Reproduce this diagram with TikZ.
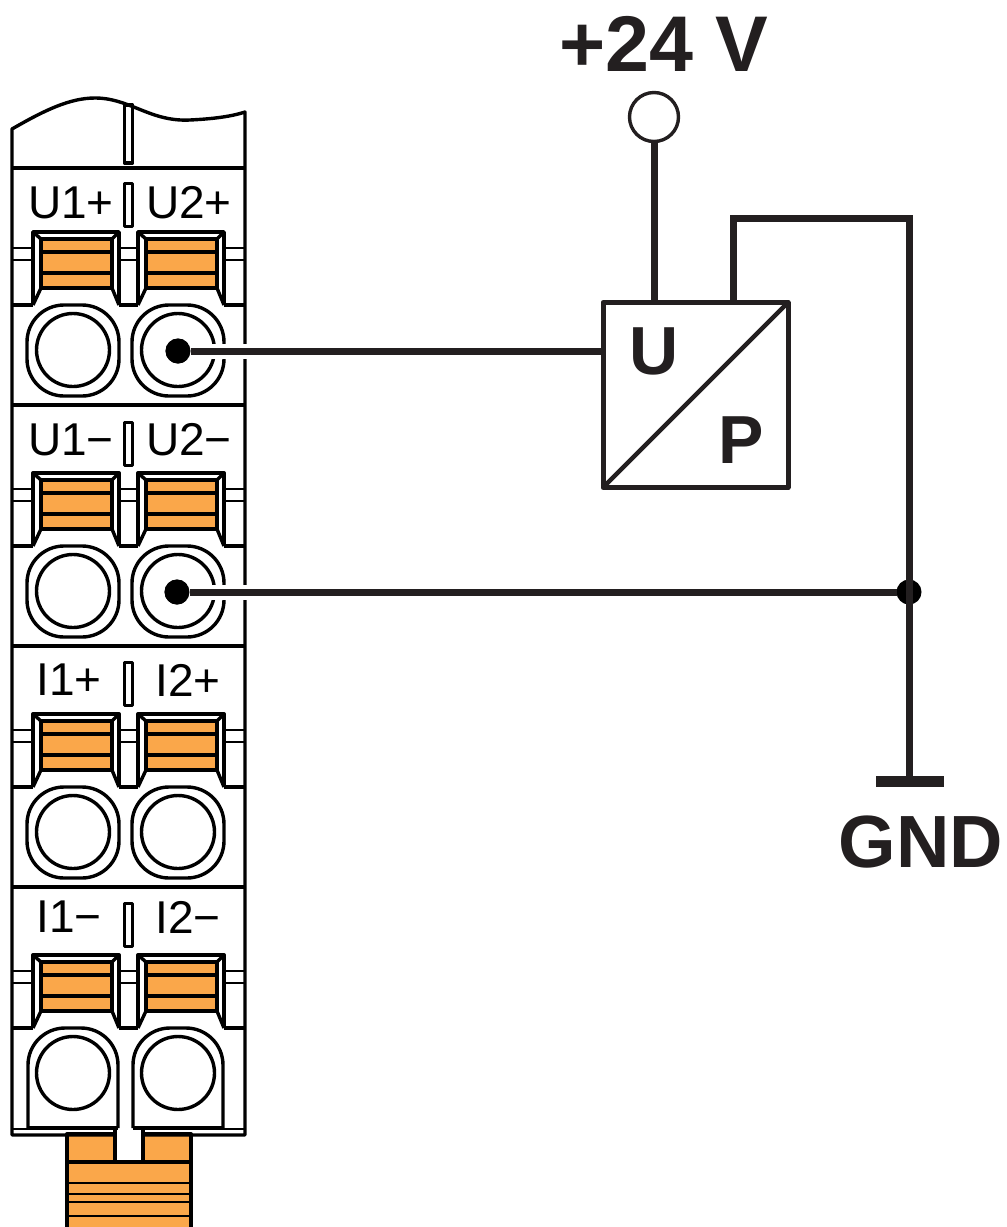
\documentclass[tikz,border=0pt]{standalone}
\usepackage{fontspec}
\setmainfont{Liberation Sans}
\definecolor{clamporange}{HTML}{FAA74A}
\definecolor{wireblack}{HTML}{231F20}

\begin{document}
\begin{tikzpicture}[
		x=1pt,y=-1pt,
		housing/.style = {draw=black,line width=3.4pt,line join=round},
		thinline/.style = {draw=black,line width=1.6pt},
		clamp/.style = {housing,fill=clamporange},
		wire/.style = {draw=wireblack,line width=7pt},
		halo/.style = {draw=white,line width=15pt},
		dot/.style = {circle,fill=black,inner sep=0pt,outer sep=0pt,minimum size=25pt},
		pinlabel/.style = {font=\fontsize{46}{46}\selectfont,inner sep=0pt},
		biglabel/.style = {font=\fontsize{79}{79}\selectfont\bfseries,inner sep=0pt,text=wireblack}
			]
		\useasboundingbox (0,0) rectangle (1007,1227);

		% bottom plug
		\filldraw [clamp] (67,1134) rectangle (191,1230);
		\draw [housing] (67,1162) -- (191,1162);
		\draw [thinline,line width=2.4pt] (67,1183) -- (191,1183);
		\draw [thinline,line width=2.4pt] (67,1194) -- (191,1194);
		\draw [thinline,line width=2.4pt] (67,1202) -- (191,1202);
		\draw [thinline,line width=2.4pt] (67,1216) -- (191,1216);

		% housing
		\draw [housing] (12,1135) -- (12,129) .. controls (45,110) and (70,98) .. (95,98)
			.. controls (130,98) and (150,122) .. (190,120) .. controls (210,119) and (230,117) .. (245,112)
			-- (245,1135) -- cycle;
		\draw [housing] (12,168) -- (245,168);
		\draw [thinline] (12,1129) -- (28,1129) (223,1129) -- (245,1129);
		\fill [white] (115,1130) rectangle (143,1162);
		\draw [housing] (115,1128) -- (115,1162) -- (143,1162) -- (143,1128);
		\draw [housing] (124.5,105) rectangle (132.5,163);

		\foreach \dy/\slot in {0/183,241/422,482/662,723/903}
		{
			\draw [housing,line width=3pt] (124.5,\slot) rectangle (132.5,\slot+43);
			\begin{scope}[shift={(0,\dy)}]
				\foreach \cx in {0,105}
				{
					\draw [thinline] (\cx+119,248) -- (\cx+138,248) (\cx+119,260) -- (\cx+138,260);
					\draw [housing] (\cx+33,305) -- (\cx+33,232) -- (\cx+119,232) -- (\cx+119,305);
					\draw [housing] (\cx+33,232) -- (\cx+41,239) (\cx+119,232) -- (\cx+112,239);
					\draw [housing] (\cx+33,305) -- (\cx+41,288) (\cx+119,305) -- (\cx+112,288);
					\filldraw [clamp] (\cx+41,239) rectangle (\cx+112,288);
					\draw [housing] (\cx+41,252) -- (\cx+112,252) (\cx+41,273) -- (\cx+112,273);
					\draw [housing] (\cx+73,350) circle (36.5);
				}
				\draw [thinline] (12,248) -- (33,248) (12,260) -- (33,260);
				\draw [thinline] (224,248) -- (245,248) (224,260) -- (245,260);
				\draw [housing] (12,305) -- (33,305) (119,305) -- (138,305) (224,305) -- (245,305);
			\end{scope}
		}

		% recesses
		\foreach \dy in {0,241,482}
		{
			\draw [housing,rounded corners=37pt] (27,\dy+305) rectangle (119,\dy+396);
			\draw [housing,rounded corners=37pt] (132,\dy+305) rectangle (224,\dy+396);
			\draw [housing] (12,\dy+405) -- (245,\dy+405);
		}
		\draw [housing,rounded corners=37pt] (28,1128) -- (28,1028) -- (118,1028) -- (118,1128);
		\draw [housing,rounded corners=37pt] (133,1128) -- (133,1028) -- (223,1028) -- (223,1128);
		\draw [housing] (28,1128) -- (118,1128) (133,1128) -- (223,1128);

		% terminal names
		\node [pinlabel] (U1p) at (71,203) {U1+};
		\node [pinlabel] (U2p) at (189,203) {U2+};
		\node [pinlabel] (U1m) at (71,440) {U1−};
		\node [pinlabel] (U2m) at (189,440) {U2−};
		\node [pinlabel] (I1p) at (69,680) {I1+};
		\node [pinlabel] (I2p) at (188,680) {I2+};
		\node [pinlabel] (I1m) at (69,917) {I1−};
		\node [pinlabel] (I2m) at (188,917) {I2−};

		% wiring
		\node [draw=wireblack,line width=5pt,line join=round,fill=white,minimum size=185pt,inner sep=0pt] (Box) at (695.5,395) {};
		\node [draw=wireblack,line width=3.4pt,circle,fill=white,minimum size=49pt,inner sep=0pt] (Supply) at (654,117) {};
		\node [biglabel] (SupplyLabel) at (664,44) {+24 V};
		\node [biglabel,font=\fontsize{68}{68}\selectfont\bfseries] (ULabel) at (654,351) {U};
		\node [biglabel,font=\fontsize{68}{68}\selectfont\bfseries] (PLabel) at (741,440) {P};
		\node [biglabel,font=\fontsize{74}{74}\selectfont\bfseries] (GndLabel) at (921,842) {GND};

		\node [dot] (PinU) at (178,351) {};
		\node [dot] (PinG) at (177,592) {};
		\node [dot] (Junction) at (909,592) {};
		\node [fill=wireblack,minimum width=68pt,minimum height=11pt,inner sep=0pt,outer sep=0pt] (Gnd) at (909.5,781) {};

		\coordinate (HaloU) at (252,351);
		\coordinate (HaloG) at (252,592);
		\coordinate (FeedA) at (654,302);
		\coordinate (FeedB) at (733,302);
		\coordinate (FeedC) at (733,218);
		\coordinate (FeedD) at (909,218);

		\draw [halo] (PinU.center) -- (HaloU);
		\draw [halo] (PinG.center) -- (HaloG);
		\node [dot] at (PinU) {};
		\node [dot] at (PinG) {};

		\draw [wire] (PinU) -- (Box.west |- PinU);
		\draw [wire] (PinG) -- (Junction);
		\draw [wire] (Supply) -- (FeedA);
		\draw [wire,line join=miter] (FeedB) -- (FeedC) -- (FeedD) -- (Gnd.north -| FeedD);
		\draw [draw=wireblack,line width=4.5pt,shorten >=3pt,shorten <=3pt] (Box.south west) -- (Box.north east);

	\end{tikzpicture}
\end{document}
